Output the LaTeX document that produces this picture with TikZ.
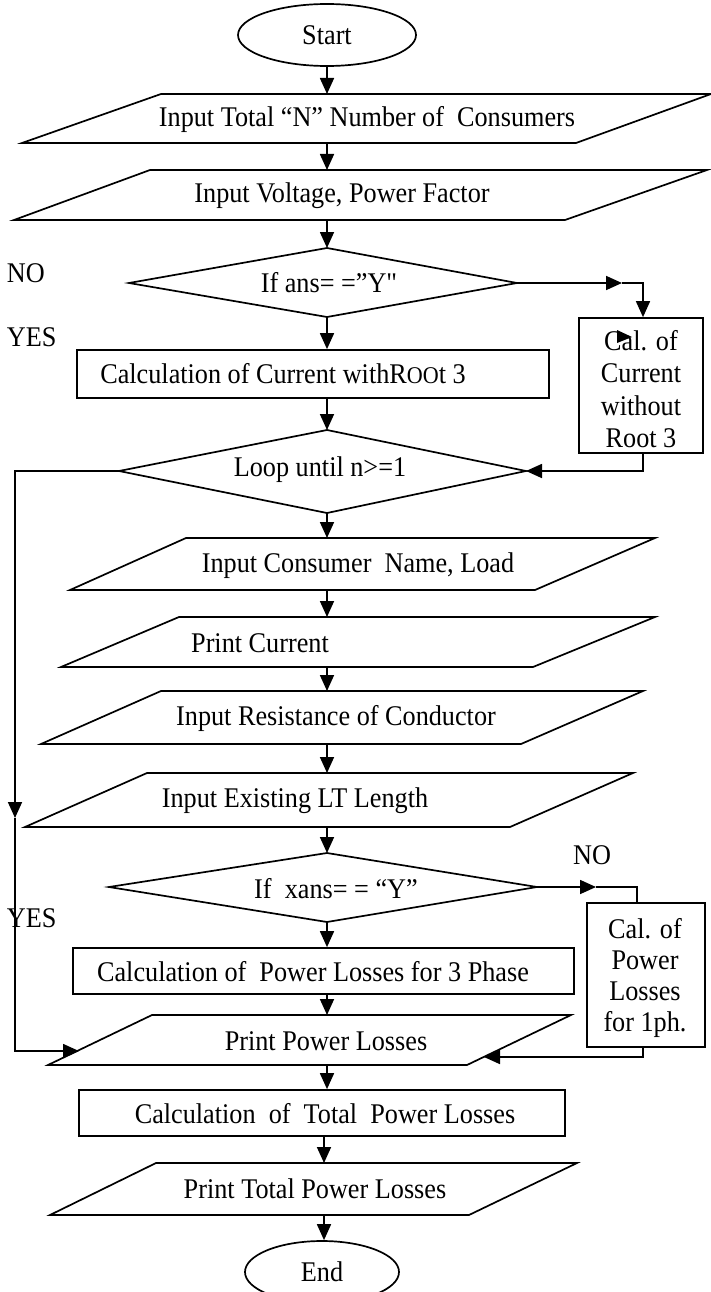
\documentclass[tikz,border=0pt]{standalone}
\usepackage{fontspec}
\setmainfont{Liberation Serif}[FakeStretch=0.92]
\newfontfamily\rawfont{Liberation Serif}[FakeStretch=0.92,Ligatures=ResetAll]
\usetikzlibrary{arrows.meta,shapes.geometric}
\begin{document}
\begin{tikzpicture}[x=1pt,y=-1pt,line width=1.7pt,
  arr/.style={-{Triangle[length=16pt,width=14pt]}},
  lbl/.style={font=\fontsize{28.5}{31}\selectfont,inner sep=0pt,anchor=center},
  multi/.style={align=center,inner sep=0pt},
  boxshape/.style={draw,inner sep=0pt}]
\useasboundingbox (0,0) rectangle (711,1292);

% Start
\node[draw,ellipse,minimum width=178pt,minimum height=62pt,inner sep=0pt,font=\fontsize{28.5}{31}\selectfont] (start) at (327,35) {Start};

% Parallelogram 1
\coordinate (p1n) at (327,94); \coordinate (p1s) at (327,143);
\draw (161,94) -- (711,94) -- (576,143) -- (22,143) -- cycle;
\node[lbl] (p1t) at (367,120) {Input Total “N” Number of\ \ Consumers};

% Parallelogram 2
\coordinate (p2n) at (327,170); \coordinate (p2s) at (327,220);
\draw (150,170) -- (707,170) -- (565,220) -- (14,220) -- cycle;
\node[lbl] (p2t) at (342,196) {Input Voltage, Power Factor};

% Diamond 1
\coordinate (d1n) at (327,248); \coordinate (d1e) at (517,283);
\coordinate (d1s) at (327,317); \coordinate (d1w) at (129,283);
\draw (d1n) -- (d1e) -- (d1s) -- (d1w) -- cycle;
\node[lbl] (d1t) at (329,283) {If ans= =”Y{\rawfont"}};
\node[lbl,anchor=west] (no1) at (6,273) {NO};
\node[lbl,anchor=west] (yes1) at (6,337) {YES};

% Box 1 (no root 3)
\node[boxshape,minimum width=124pt,minimum height=135pt] (b1) at (641,385.5) {};
\node[multi,font=\fontsize{28.5}{32.5}\selectfont] (b1t) at (641,389) {Cal. of\\Current\\without\\Root 3};
\fill (617,330) -- (632,337) -- (617,343) -- cycle;
\coordinate (b1e1) at (643,283);
\coordinate (b1mid) at (622,283);
\draw[arr] (d1e) -- (b1mid);
\draw[arr] (b1mid) -- (b1e1) -- (b1e1 |- b1.north);

% Rect 1
\node[boxshape,minimum width=472pt,minimum height=48pt] (r1) at (313,374) {};
\node[lbl] (r1t) at (283,374) {Calculation of Current withR{\fontsize{24}{26}\selectfont OO}t 3};

% Diamond 2
\coordinate (d2n) at (327,430); \coordinate (d2e) at (526,471);
\coordinate (d2s) at (327,513); \coordinate (d2w) at (119,471);
\draw (d2n) -- (d2e) -- (d2s) -- (d2w) -- cycle;
\node[lbl] (d2t) at (320,470) {Loop until n>=1};
\coordinate (b1b) at (643,471);
\draw[arr] (b1.south -| b1b) -- (b1b) -- (d2e);

% Parallelogram 3
\coordinate (p3n) at (327,538); \coordinate (p3s) at (327,590);
\draw (186,538) -- (655,538) -- (535,590) -- (70,590) -- cycle;
\node[lbl] (p3t) at (358,566) {Input Consumer\ \ Name, Load};

% Parallelogram 4
\coordinate (p4n) at (327,617); \coordinate (p4s) at (327,667);
\draw (179,617) -- (655,617) -- (533,667) -- (61,667) -- cycle;
\node[lbl] (p4t) at (260,643) {Print Current};

% Parallelogram 5
\coordinate (p5n) at (327,691); \coordinate (p5s) at (327,744);
\draw (161,691) -- (643,691) -- (521,744) -- (41,744) -- cycle;
\node[lbl] (p5t) at (336,718) {Input Resistance of Conductor};

% Parallelogram 6
\coordinate (p6n) at (327,773); \coordinate (p6s) at (327,827);
\draw (147,773) -- (633,773) -- (510,827) -- (25,827) -- cycle;
\node[lbl] (p6t) at (295,801) {Input Existing LT Length};

% Diamond 3
\coordinate (d3n) at (327,853); \coordinate (d3e) at (537,887);
\coordinate (d3s) at (327,922); \coordinate (d3w) at (109,887);
\draw (d3n) -- (d3e) -- (d3s) -- (d3w) -- cycle;
\node[lbl] (d3t) at (336,889) {If\ \ xans= = “Y”};
\node[lbl] (no2) at (592,855) {NO};
\node[lbl,anchor=west] (yes2) at (6,918) {YES};

% Box 2
\node[boxshape,minimum width=118pt,minimum height=144pt] (b2) at (646,975) {};
\node[multi,font=\fontsize{28.5}{31}\selectfont] (b2t) at (645,978) {Cal. of\\Power\\Losses\\for 1ph.};
\coordinate (b2mid) at (596,887);
\coordinate (b2c) at (637,887);
\draw[arr] (d3e) -- (b2mid);
\draw (b2mid) -- (b2c) -- (b2c |- b2.north);

% Rect 2
\node[boxshape,minimum width=501pt,minimum height=46pt] (r2) at (323.5,971) {};
\node[lbl] (r2t) at (313,972) {Calculation of\ \ Power Losses for 3 Phase};

% Parallelogram 7
\coordinate (p7n) at (327,1015); \coordinate (p7s) at (327,1065);
\coordinate (p7w) at (79,1051); \coordinate (p7e) at (484,1057);
\draw (152,1015) -- (571,1015) -- (467,1065) -- (48,1065) -- cycle;
\node[lbl] (p7t) at (326,1041) {Print Power Losses};

% Rect 3
\node[boxshape,minimum width=486pt,minimum height=46pt] (r3) at (322,1113) {};
\node[lbl] (r3t) at (325,1114) {Calculation\ \ of\ \ Total\ \ Power Losses};

% Parallelogram 8
\coordinate (p8n) at (324,1163); \coordinate (p8s) at (324,1215);
\draw (156,1163) -- (577,1163) -- (469,1215) -- (50,1215) -- cycle;
\node[lbl] (p8t) at (315,1189) {Print Total Power Losses};

% End
\node[draw,ellipse,minimum width=154pt,minimum height=62pt,inner sep=0pt,font=\fontsize{28.5}{31}\selectfont] (end) at (322,1272) {End};

% Main connectors
\draw[arr] (start.south) -- (p1n);
\draw[arr] (p1s) -- (p2n);
\draw[arr] (p2s) -- (d1n);
\draw[arr] (d1s) -- (d1s |- r1.north);
\draw[arr] (d1s |- r1.south) -- (d2n);
\draw[arr] (d2s) -- (p3n);
\draw[arr] (p3s) -- (p4n);
\draw[arr] (p4s) -- (p5n);
\draw[arr] (p5s) -- (p6n);
\draw[arr] (p6s) -- (d3n);
\draw[arr] (d3s) -- (d3s |- r2.north);
\draw[arr] (d3s |- r2.south) -- (p7n);
\draw[arr] (p7s) -- (p7s |- r3.north);
\draw[arr] (p8n |- r3.south) -- (p8n);
\draw[arr] (p8s) -- (p8s |- end.north);

% Loop back line on the left
\coordinate (lp1) at (15,471);
\coordinate (lp2) at (15,818);
\coordinate (lp3) at (15,1051);
\draw[arr] (d2w) -- (lp1) -- (lp2);
\draw[arr] (lp2) -- (lp3) -- (p7w);

% Box 2 return
\coordinate (b2b) at (643,1057);
\draw[arr] (b2.south -| b2b) -- (b2b) -- (p7e);
\end{tikzpicture}
\end{document}
